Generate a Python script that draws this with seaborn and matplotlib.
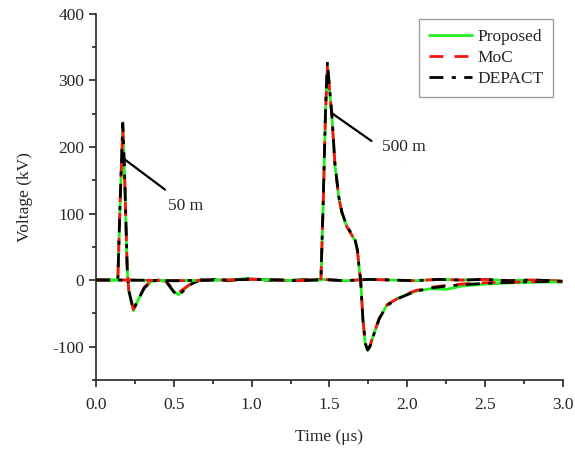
import matplotlib
matplotlib.use("Agg")
import matplotlib.pyplot as plt
from matplotlib.ticker import MultipleLocator, AutoMinorLocator
import seaborn as sns

# 50 m case (time in us, voltage in kV)
t_50 = [0.0, 0.10, 0.14, 0.155, 0.172, 0.185, 0.20, 0.21, 0.24, 0.27, 0.31, 0.35, 0.40,
        0.45, 0.50, 0.53, 0.57, 0.62, 0.67, 0.75, 0.85, 0.95, 1.05, 1.15, 1.30, 1.45,
        1.60, 1.75, 1.90, 2.05, 2.20, 2.35, 2.50, 2.65, 2.80, 2.95, 3.0]
depact_50 = [0, 0, 0, 120, 236, 150, 20, -15, -45, -30, -12, -3, 0,
             -2, -18, -24, -14, -5, 0, 1, -1, 2, 1, -1, 0, 1,
             -1, 1, 0, -1, 1, 0, 1, -1, 0, -1, -2]
moc_50 = [0, 0, 0, 118, 230, 148, 19, -15, -44, -29, -11, -2, 0,
          -2, -15, -19, -12, -4, 0, 1, -1, 2, 1, -1, 0, 1,
          -1, 1, 0, -1, 1, 0, 1, -1, 0, -1, -2]
proposed_50 = [0, 0, 0, 115, 228, 146, 18, -16, -46, -30, -12, -3, 0,
               -2, -17, -22, -13, -4, 0, 1, -1, 2, 1, -1, 0, 1,
               -1, 1, 0, -1, 1, 0, 1, -1, 0, -1, -2]

# 500 m case
t_500 = [0.0, 0.2, 0.5, 0.8, 1.0, 1.2, 1.3, 1.42, 1.445, 1.46, 1.475, 1.487, 1.50,
         1.515, 1.535, 1.56, 1.58, 1.61, 1.64, 1.665, 1.68, 1.69, 1.70, 1.715, 1.73,
         1.745, 1.76, 1.78, 1.82, 1.87, 1.95, 2.05, 2.15, 2.25, 2.35, 2.5, 2.7, 2.9, 3.0]
depact_500 = [0, 0, -1, 0, 1, 0, -1, 0, 0, 120, 260, 328, 290,
              250, 175, 125, 102, 82, 70, 60, 45, 20, 0, -60, -95,
              -105, -100, -85, -58, -38, -27, -17, -12, -9, -7, -5, -3, -2, -2]
moc_500 = [0, 0, -1, 0, 1, 0, -1, 0, 0, 118, 255, 322, 288,
           248, 174, 124, 101, 81, 69, 59, 44, 19, 0, -59, -94,
           -104, -99, -84, -57, -37, -26, -16, -11, -8, -6, -4, -3, -2, -2]
proposed_500 = [0, 0, -1, 0, 1, 0, -1, 0, 0, 117, 254, 320, 287,
                247, 173, 124, 101, 81, 69, 59, 44, 19, 0, -60, -96,
                -106, -100, -85, -58, -37, -26, -17, -13, -14, -9, -6, -4, -3, -3]

sns.set_style("ticks")
plt.rcParams["font.family"] = ["Liberation Serif", "DejaVu Serif"]
plt.rcParams["axes.unicode_minus"] = False
plt.rcParams["font.size"] = 12.5

fig, ax = plt.subplots(figsize=(5.75, 4.49), dpi=100)
fig.subplots_adjust(left=0.167, right=0.979, top=0.969, bottom=0.154)

for t, prop, moc, dep in [(t_50, proposed_50, moc_50, depact_50),
                          (t_500, proposed_500, moc_500, depact_500)]:
    first = t is t_50
    sns.lineplot(x=t, y=prop, ax=ax, color="#22ee22", lw=2, estimator=None,
                 label="Proposed" if first else None)
    sns.lineplot(x=t, y=moc, ax=ax, color="#ff1010", lw=2, estimator=None,
                 label="MoC" if first else None)
    sns.lineplot(x=t, y=dep, ax=ax, color="black", lw=2, estimator=None,
                 label="DEPACT" if first else None)

lines = ax.get_lines()
for i, ln in enumerate(lines):
    if i % 3 == 1:
        ln.set_dashes([5, 4])
    elif i % 3 == 2:
        ln.set_dashes([5, 3, 1.5, 3])

# leader lines and labels
ax.annotate("", xy=(0.186, 181), xytext=(0.443, 136),
            arrowprops=dict(arrowstyle="-", color="black", lw=1.6, shrinkA=0, shrinkB=0))
ax.text(0.46, 111, "50 m", va="center", ha="left")
ax.annotate("", xy=(1.514, 251), xytext=(1.77, 209),
            arrowprops=dict(arrowstyle="-", color="black", lw=1.6, shrinkA=0, shrinkB=0))
ax.text(1.835, 200, "500 m", va="center", ha="left")

ax.set_xlim(0, 3.0)
ax.set_ylim(-150, 400)
ax.xaxis.set_major_locator(MultipleLocator(0.5))
ax.yaxis.set_major_locator(MultipleLocator(100))
ax.xaxis.set_minor_locator(AutoMinorLocator(2))
ax.yaxis.set_minor_locator(AutoMinorLocator(2))
ax.set_xticklabels([f"{v:.1f}" for v in ax.get_xticks()])
ax.tick_params(which="major", direction="out", length=5, width=1.2, labelsize=12.5)
ax.tick_params(axis="x", which="major", pad=7)
ax.tick_params(which="minor", direction="out", length=3, width=1.2)
for s in ["top", "right"]:
    ax.spines[s].set_visible(False)
for s in ["left", "bottom"]:
    ax.spines[s].set_linewidth(1.2)

ax.set_xlabel("Time (μs)", fontsize=12.5, labelpad=12)
ax.set_ylabel("Voltage (kV)", fontsize=12.5, labelpad=14)

handles, labels = ax.get_legend_handles_labels()
leg = ax.legend(handles, labels, loc="upper right", bbox_to_anchor=(0.997, 1.01),
                fontsize=12.5, frameon=True, fancybox=False, edgecolor="#888888",
                handlelength=2.5, handletextpad=0.3, borderpad=0.55, labelspacing=0.3)
leg.get_frame().set_linewidth(1.0)

fig.savefig("out.png", dpi=100)
